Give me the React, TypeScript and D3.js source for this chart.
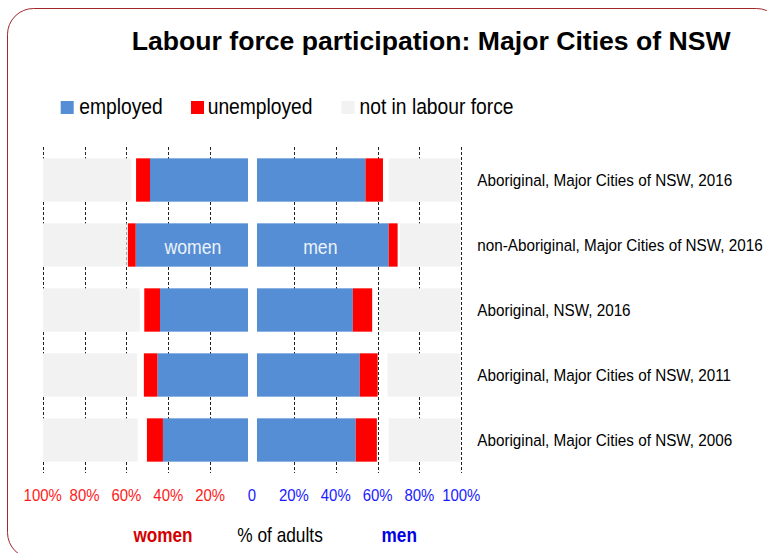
import React from "react";
import * as d3 from "d3";

const categories = [
  "Aboriginal, Major Cities of NSW, 2016",
  "non-Aboriginal, Major Cities of NSW, 2016",
  "Aboriginal, NSW, 2016",
  "Aboriginal, Major Cities of NSW, 2011",
  "Aboriginal, Major Cities of NSW, 2006",
];
const womenEmployed = [47.8, 54.8, 42.9, 44.2, 41.5];
const womenUnemployed = [6.8, 3.8, 7.7, 6.6, 7.8];
const womenNotInLF = [43.1, 40.8, 47.2, 45.9, 46.2];
const menEmployed = [53.3, 64.7, 47.1, 50.5, 48.5];
const menUnemployed = [8.6, 4.4, 9.5, 8.8, 10.4];
const menNotInLF = [35.3, 29.8, 40.0, 35.9, 35.3];

const tickValues = [-100, -80, -60, -40, -20, 0, 20, 40, 60, 80, 100];
const tickLabels = ["100%", "80%", "60%", "40%", "20%", "0", "20%", "40%", "60%", "80%", "100%"];
const legendItems = ["employed", "unemployed", "not in labour force"];

const W = 767;
const H = 553;
const FONT = "'Liberation Sans', Arial, sans-serif";
const BLUE = "#558ed5";
const RED = "#ff0000";
const GRAY = "#f2f2f2";

function NText({ x, y, sx, children, ...rest }: any) {
  return (
    <text transform={`translate(${x},${y}) scale(${sx},1)`} fontFamily={FONT} {...rest}>
      {children}
    </text>
  );
}

export default function App() {
  const y = d3.scaleBand<string>().domain(categories).range([147.5, 472.5]).paddingInner(1 / 3).paddingOuter(1 / 6);
  const xW = d3.scaleLinear().domain([0, 100]).range([248, 43]);
  const xM = d3.scaleLinear().domain([0, 100]).range([257, 460.5]);
  const xAxis = d3.scaleLinear().domain([-100, 100]).range([42.7, 461.3]);
  const bh = y.bandwidth();

  const legendSq = [60.7, 191, 341.5];
  const legendTx = [79.3, 207.7, 359.5];
  const legendColors = [BLUE, RED, GRAY];

  return (
    <svg width={W} height={H} style={{ position: "absolute", left: 0, top: 0, display: "block" }}>
      <rect x={0} y={0} width={W} height={H} fill="#fff" />
      <rect x={7.5} y={8.5} width={775} height={550} rx={26} ry={26} fill="#fff" stroke="#a3262a" strokeWidth={1} />

      <text x={131.7} y={50} fontFamily={FONT} fontWeight="bold" fontSize={26} textLength={599} lengthAdjust="spacingAndGlyphs" fill="#000">
        Labour force participation: Major Cities of NSW
      </text>

      {legendItems.map((t, i) => (
        <g key={t}>
          <rect x={legendSq[i]} y={101} width={13} height={13} fill={legendColors[i]} />
          <NText x={legendTx[i]} y={114} sx={0.875} fontSize={22} fill="#000">
            {t}
          </NText>
        </g>
      ))}

      {/* gridlines */}
      {tickValues
        .filter((v) => v !== 0)
        .map((v) => (
          <line
            key={v}
            x1={Math.round(xAxis(v)) + 0.5}
            x2={Math.round(xAxis(v)) + 0.5}
            y1={147}
            y2={473}
            stroke="#222"
            strokeWidth={1}
            strokeDasharray="3,2"
          />
        ))}

      {categories.map((c, i) => {
        const y0 = y(c)!;
        const we = womenEmployed[i];
        const wu = womenUnemployed[i];
        const wn = womenNotInLF[i];
        const me = menEmployed[i];
        const mu = menUnemployed[i];
        const mn = menNotInLF[i];
        return (
          <g key={c}>
            {/* women */}
            <rect x={xW(we)} y={y0} width={xW(0) - xW(we)} height={bh} fill={BLUE} />
            <rect x={xW(we + wu)} y={y0} width={xW(we) - xW(we + wu)} height={bh} fill={RED} />
            <rect x={xW(100)} y={y0} width={xW(100 - wn) - xW(100)} height={bh} fill={GRAY} />
            {/* men */}
            <rect x={xM(0)} y={y0} width={xM(me) - xM(0)} height={bh} fill={BLUE} />
            <rect x={xM(me)} y={y0} width={xM(me + mu) - xM(me)} height={bh} fill={RED} />
            <rect x={xM(100 - mn)} y={y0} width={xM(100) - xM(100 - mn)} height={bh} fill={GRAY} />
            <NText x={477.3} y={y0 + bh / 2 + 6} sx={0.936} fontSize={16.3} fill="#000">
              {c}
            </NText>
            {i === 1 && (
              <>
                <NText x={xW(we / 2) + 1} y={y0 + bh / 2 + 8.5} sx={0.84} fontSize={21} fill="#eef2fa" textAnchor="middle">
                  women
                </NText>
                <NText x={xM(me / 2) - 2.5} y={y0 + bh / 2 + 8.5} sx={0.84} fontSize={21} fill="#eef2fa" textAnchor="middle">
                  men
                </NText>
              </>
            )}
          </g>
        );
      })}

      {tickValues.map((v, i) => (
        <NText key={v} x={xAxis(v)} y={501} sx={0.9} fontSize={16.6} textAnchor="middle" fill={v < 0 ? "#ff1a1a" : "#1a1aff"}>
          {tickLabels[i]}
        </NText>
      ))}

      <NText x={163} y={541.7} sx={0.86} fontSize={20} fontWeight="bold" textAnchor="middle" fill="#d40000">
        women
      </NText>
      <NText x={280} y={541.7} sx={0.865} fontSize={20} textAnchor="middle" fill="#000">
        % of adults
      </NText>
      <NText x={399.2} y={541.7} sx={0.86} fontSize={20} fontWeight="bold" textAnchor="middle" fill="#0000e6">
        men
      </NText>
    </svg>
  );
}
